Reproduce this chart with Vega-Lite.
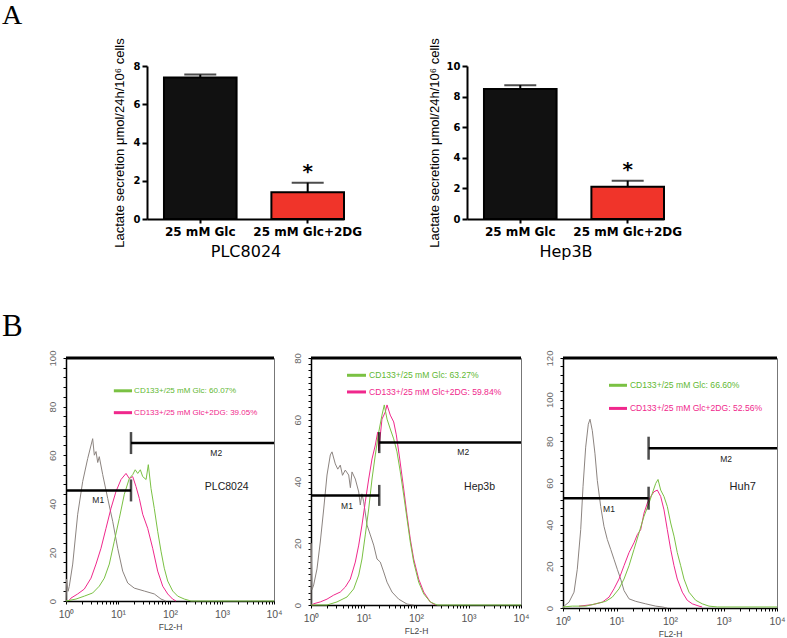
{
  "$schema": "https://vega.github.io/schema/vega-lite/v6.json",
  "background": "white",
  "padding": {"left": 2, "top": 1, "right": 5, "bottom": 5},
  "bounds": "flush",
  "spacing": 292,
  "resolve": {"scale": {"color": "independent"}},
  "title": {"text": "A", "anchor": "start", "frame": "group", "font": "Liberation Serif", "fontSize": 28, "fontWeight": "normal", "color": "black", "dx": -64, "offset": 8},
  "config": {
    "view": {"stroke": null},
    "font": "Liberation Sans",
    "axis": {"grid": false, "labelOverlap": false}
  },
  "datasets": {
    "lactate": [
      {"cell": "PLC8024", "treatment": "25 mM Glc", "mean": 7.4, "upper": 7.55, "sig": ""},
      {"cell": "PLC8024", "treatment": "25 mM Glc+2DG", "mean": 1.4, "upper": 1.9, "sig": "*"},
      {"cell": "Hep3B", "treatment": "25 mM Glc", "mean": 8.5, "upper": 8.75, "sig": ""},
      {"cell": "Hep3B", "treatment": "25 mM Glc+2DG", "mean": 2.1, "upper": 2.5, "sig": "*"}
    ],
    "gates": [
      {"cell": "PLC8024", "gate": "M1", "from": 0, "to": 1.25, "level": 45.5, "edge": 1.25},
      {"cell": "PLC8024", "gate": "M2", "from": 1.25, "to": 4, "level": 65, "edge": 1.25},
      {"cell": "Hep3b", "gate": "M1", "from": 0, "to": 1.3, "level": 35.5, "edge": 1.3},
      {"cell": "Hep3b", "gate": "M2", "from": 1.3, "to": 4, "level": 52.6, "edge": 1.3},
      {"cell": "Huh7", "gate": "M1", "from": 0, "to": 1.6, "level": 52.7, "edge": 1.6},
      {"cell": "Huh7", "gate": "M2", "from": 1.6, "to": 4, "level": 76.7, "edge": 1.6}
    ],
    "flow": [
      {"cell": "PLC8024", "series": "control", "logFL2H": 0, "count": 0},
      {"cell": "PLC8024", "series": "control", "logFL2H": 0.01, "count": 9},
      {"cell": "PLC8024", "series": "control", "logFL2H": 0.04, "count": 4},
      {"cell": "PLC8024", "series": "control", "logFL2H": 0.063, "count": 6},
      {"cell": "PLC8024", "series": "control", "logFL2H": 0.129, "count": 15.2},
      {"cell": "PLC8024", "series": "control", "logFL2H": 0.225, "count": 35.7},
      {"cell": "PLC8024", "series": "control", "logFL2H": 0.321, "count": 49.2},
      {"cell": "PLC8024", "series": "control", "logFL2H": 0.417, "count": 58.6},
      {"cell": "PLC8024", "series": "control", "logFL2H": 0.513, "count": 66.8},
      {"cell": "PLC8024", "series": "control", "logFL2H": 0.545, "count": 60},
      {"cell": "PLC8024", "series": "control", "logFL2H": 0.577, "count": 61.5},
      {"cell": "PLC8024", "series": "control", "logFL2H": 0.61, "count": 57},
      {"cell": "PLC8024", "series": "control", "logFL2H": 0.64, "count": 59.4},
      {"cell": "PLC8024", "series": "control", "logFL2H": 0.706, "count": 52},
      {"cell": "PLC8024", "series": "control", "logFL2H": 0.802, "count": 42.2},
      {"cell": "PLC8024", "series": "control", "logFL2H": 0.898, "count": 32.8},
      {"cell": "PLC8024", "series": "control", "logFL2H": 0.994, "count": 21.7},
      {"cell": "PLC8024", "series": "control", "logFL2H": 1.09, "count": 12.3},
      {"cell": "PLC8024", "series": "control", "logFL2H": 1.187, "count": 7.4},
      {"cell": "PLC8024", "series": "control", "logFL2H": 1.313, "count": 5.3},
      {"cell": "PLC8024", "series": "control", "logFL2H": 1.506, "count": 4.1},
      {"cell": "PLC8024", "series": "control", "logFL2H": 1.698, "count": 2.9},
      {"cell": "PLC8024", "series": "control", "logFL2H": 1.827, "count": 0.8},
      {"cell": "PLC8024", "series": "control", "logFL2H": 1.92, "count": 0},
      {"cell": "PLC8024", "series": "Glc+2DG", "logFL2H": 0.05, "count": 0},
      {"cell": "PLC8024", "series": "Glc+2DG", "logFL2H": 0.096, "count": 1.2},
      {"cell": "PLC8024", "series": "Glc+2DG", "logFL2H": 0.225, "count": 2.9},
      {"cell": "PLC8024", "series": "Glc+2DG", "logFL2H": 0.352, "count": 4.9},
      {"cell": "PLC8024", "series": "Glc+2DG", "logFL2H": 0.481, "count": 9.4},
      {"cell": "PLC8024", "series": "Glc+2DG", "logFL2H": 0.577, "count": 15.2},
      {"cell": "PLC8024", "series": "Glc+2DG", "logFL2H": 0.673, "count": 21.7},
      {"cell": "PLC8024", "series": "Glc+2DG", "logFL2H": 0.769, "count": 29.9},
      {"cell": "PLC8024", "series": "Glc+2DG", "logFL2H": 0.865, "count": 38.1},
      {"cell": "PLC8024", "series": "Glc+2DG", "logFL2H": 0.962, "count": 45.1},
      {"cell": "PLC8024", "series": "Glc+2DG", "logFL2H": 1.058, "count": 50},
      {"cell": "PLC8024", "series": "Glc+2DG", "logFL2H": 1.154, "count": 52.5},
      {"cell": "PLC8024", "series": "Glc+2DG", "logFL2H": 1.217, "count": 50.4},
      {"cell": "PLC8024", "series": "Glc+2DG", "logFL2H": 1.283, "count": 51.2},
      {"cell": "PLC8024", "series": "Glc+2DG", "logFL2H": 1.346, "count": 47.1},
      {"cell": "PLC8024", "series": "Glc+2DG", "logFL2H": 1.41, "count": 42.2},
      {"cell": "PLC8024", "series": "Glc+2DG", "logFL2H": 1.475, "count": 35.7},
      {"cell": "PLC8024", "series": "Glc+2DG", "logFL2H": 1.571, "count": 29.9},
      {"cell": "PLC8024", "series": "Glc+2DG", "logFL2H": 1.667, "count": 21.7},
      {"cell": "PLC8024", "series": "Glc+2DG", "logFL2H": 1.763, "count": 12.3},
      {"cell": "PLC8024", "series": "Glc+2DG", "logFL2H": 1.86, "count": 6.1},
      {"cell": "PLC8024", "series": "Glc+2DG", "logFL2H": 1.956, "count": 2.9},
      {"cell": "PLC8024", "series": "Glc+2DG", "logFL2H": 2.05, "count": 0.8},
      {"cell": "PLC8024", "series": "Glc+2DG", "logFL2H": 2.115, "count": 0},
      {"cell": "PLC8024", "series": "Glc", "logFL2H": 0, "count": 0},
      {"cell": "PLC8024", "series": "Glc", "logFL2H": 0.192, "count": 0.8},
      {"cell": "PLC8024", "series": "Glc", "logFL2H": 0.352, "count": 2},
      {"cell": "PLC8024", "series": "Glc", "logFL2H": 0.513, "count": 3.3},
      {"cell": "PLC8024", "series": "Glc", "logFL2H": 0.64, "count": 6.1},
      {"cell": "PLC8024", "series": "Glc", "logFL2H": 0.737, "count": 9.4},
      {"cell": "PLC8024", "series": "Glc", "logFL2H": 0.833, "count": 15.2},
      {"cell": "PLC8024", "series": "Glc", "logFL2H": 0.929, "count": 24.6},
      {"cell": "PLC8024", "series": "Glc", "logFL2H": 1.025, "count": 34},
      {"cell": "PLC8024", "series": "Glc", "logFL2H": 1.121, "count": 43.9},
      {"cell": "PLC8024", "series": "Glc", "logFL2H": 1.217, "count": 50.4},
      {"cell": "PLC8024", "series": "Glc", "logFL2H": 1.283, "count": 52},
      {"cell": "PLC8024", "series": "Glc", "logFL2H": 1.331, "count": 54},
      {"cell": "PLC8024", "series": "Glc", "logFL2H": 1.379, "count": 52.5},
      {"cell": "PLC8024", "series": "Glc", "logFL2H": 1.43, "count": 54},
      {"cell": "PLC8024", "series": "Glc", "logFL2H": 1.475, "count": 51.2},
      {"cell": "PLC8024", "series": "Glc", "logFL2H": 1.54, "count": 50},
      {"cell": "PLC8024", "series": "Glc", "logFL2H": 1.583, "count": 56.1},
      {"cell": "PLC8024", "series": "Glc", "logFL2H": 1.635, "count": 46.3},
      {"cell": "PLC8024", "series": "Glc", "logFL2H": 1.698, "count": 38.1},
      {"cell": "PLC8024", "series": "Glc", "logFL2H": 1.763, "count": 28.7},
      {"cell": "PLC8024", "series": "Glc", "logFL2H": 1.827, "count": 20.5},
      {"cell": "PLC8024", "series": "Glc", "logFL2H": 1.89, "count": 13.5},
      {"cell": "PLC8024", "series": "Glc", "logFL2H": 1.956, "count": 8.2},
      {"cell": "PLC8024", "series": "Glc", "logFL2H": 2.052, "count": 4.1},
      {"cell": "PLC8024", "series": "Glc", "logFL2H": 2.148, "count": 2},
      {"cell": "PLC8024", "series": "Glc", "logFL2H": 2.275, "count": 0.8},
      {"cell": "PLC8024", "series": "Glc", "logFL2H": 2.404, "count": 0},
      {"cell": "PLC8024", "series": "Glc", "logFL2H": 4, "count": 0},
      {"cell": "Hep3b", "series": "control", "logFL2H": 0, "count": 0},
      {"cell": "Hep3b", "series": "control", "logFL2H": 0.001, "count": 20},
      {"cell": "Hep3b", "series": "control", "logFL2H": 0.02, "count": 5},
      {"cell": "Hep3b", "series": "control", "logFL2H": 0.051, "count": 6.5},
      {"cell": "Hep3b", "series": "control", "logFL2H": 0.114, "count": 11.7},
      {"cell": "Hep3b", "series": "control", "logFL2H": 0.177, "count": 20.4},
      {"cell": "Hep3b", "series": "control", "logFL2H": 0.242, "count": 31.1},
      {"cell": "Hep3b", "series": "control", "logFL2H": 0.305, "count": 42.1},
      {"cell": "Hep3b", "series": "control", "logFL2H": 0.368, "count": 48.6},
      {"cell": "Hep3b", "series": "control", "logFL2H": 0.4, "count": 49.6},
      {"cell": "Hep3b", "series": "control", "logFL2H": 0.463, "count": 45.7},
      {"cell": "Hep3b", "series": "control", "logFL2H": 0.51, "count": 44},
      {"cell": "Hep3b", "series": "control", "logFL2H": 0.558, "count": 45.3},
      {"cell": "Hep3b", "series": "control", "logFL2H": 0.6, "count": 42},
      {"cell": "Hep3b", "series": "control", "logFL2H": 0.653, "count": 43.7},
      {"cell": "Hep3b", "series": "control", "logFL2H": 0.718, "count": 42.1},
      {"cell": "Hep3b", "series": "control", "logFL2H": 0.75, "count": 38},
      {"cell": "Hep3b", "series": "control", "logFL2H": 0.781, "count": 43.1},
      {"cell": "Hep3b", "series": "control", "logFL2H": 0.844, "count": 40.8},
      {"cell": "Hep3b", "series": "control", "logFL2H": 0.909, "count": 36.6},
      {"cell": "Hep3b", "series": "control", "logFL2H": 0.939, "count": 32.4},
      {"cell": "Hep3b", "series": "control", "logFL2H": 0.97, "count": 36},
      {"cell": "Hep3b", "series": "control", "logFL2H": 1.004, "count": 33.4},
      {"cell": "Hep3b", "series": "control", "logFL2H": 1.067, "count": 25.9},
      {"cell": "Hep3b", "series": "control", "logFL2H": 1.13, "count": 22.7},
      {"cell": "Hep3b", "series": "control", "logFL2H": 1.194, "count": 19.4},
      {"cell": "Hep3b", "series": "control", "logFL2H": 1.257, "count": 14.9},
      {"cell": "Hep3b", "series": "control", "logFL2H": 1.32, "count": 13.9},
      {"cell": "Hep3b", "series": "control", "logFL2H": 1.385, "count": 10.7},
      {"cell": "Hep3b", "series": "control", "logFL2H": 1.448, "count": 7.4},
      {"cell": "Hep3b", "series": "control", "logFL2H": 1.543, "count": 4.2},
      {"cell": "Hep3b", "series": "control", "logFL2H": 1.67, "count": 1.9},
      {"cell": "Hep3b", "series": "control", "logFL2H": 1.829, "count": 0.3},
      {"cell": "Hep3b", "series": "control", "logFL2H": 1.956, "count": 0},
      {"cell": "Hep3b", "series": "Glc+2DG", "logFL2H": 0.02, "count": 0},
      {"cell": "Hep3b", "series": "Glc+2DG", "logFL2H": 0.051, "count": 0.4},
      {"cell": "Hep3b", "series": "Glc+2DG", "logFL2H": 0.177, "count": 1},
      {"cell": "Hep3b", "series": "Glc+2DG", "logFL2H": 0.305, "count": 1.9},
      {"cell": "Hep3b", "series": "Glc+2DG", "logFL2H": 0.432, "count": 3.2},
      {"cell": "Hep3b", "series": "Glc+2DG", "logFL2H": 0.558, "count": 4.2},
      {"cell": "Hep3b", "series": "Glc+2DG", "logFL2H": 0.653, "count": 5.8},
      {"cell": "Hep3b", "series": "Glc+2DG", "logFL2H": 0.749, "count": 8.4},
      {"cell": "Hep3b", "series": "Glc+2DG", "logFL2H": 0.844, "count": 13.9},
      {"cell": "Hep3b", "series": "Glc+2DG", "logFL2H": 0.909, "count": 19.4},
      {"cell": "Hep3b", "series": "Glc+2DG", "logFL2H": 0.971, "count": 25.9},
      {"cell": "Hep3b", "series": "Glc+2DG", "logFL2H": 1.034, "count": 33.4},
      {"cell": "Hep3b", "series": "Glc+2DG", "logFL2H": 1.099, "count": 40.8},
      {"cell": "Hep3b", "series": "Glc+2DG", "logFL2H": 1.162, "count": 47.3},
      {"cell": "Hep3b", "series": "Glc+2DG", "logFL2H": 1.225, "count": 51.8},
      {"cell": "Hep3b", "series": "Glc+2DG", "logFL2H": 1.27, "count": 56},
      {"cell": "Hep3b", "series": "Glc+2DG", "logFL2H": 1.29, "count": 50},
      {"cell": "Hep3b", "series": "Glc+2DG", "logFL2H": 1.352, "count": 60.2},
      {"cell": "Hep3b", "series": "Glc+2DG", "logFL2H": 1.415, "count": 62.5},
      {"cell": "Hep3b", "series": "Glc+2DG", "logFL2H": 1.448, "count": 64.8},
      {"cell": "Hep3b", "series": "Glc+2DG", "logFL2H": 1.51, "count": 61.5},
      {"cell": "Hep3b", "series": "Glc+2DG", "logFL2H": 1.575, "count": 59.3},
      {"cell": "Hep3b", "series": "Glc+2DG", "logFL2H": 1.625, "count": 55.1},
      {"cell": "Hep3b", "series": "Glc+2DG", "logFL2H": 1.69, "count": 47.3},
      {"cell": "Hep3b", "series": "Glc+2DG", "logFL2H": 1.766, "count": 37.6},
      {"cell": "Hep3b", "series": "Glc+2DG", "logFL2H": 1.829, "count": 29.1},
      {"cell": "Hep3b", "series": "Glc+2DG", "logFL2H": 1.891, "count": 21.4},
      {"cell": "Hep3b", "series": "Glc+2DG", "logFL2H": 1.956, "count": 14.9},
      {"cell": "Hep3b", "series": "Glc+2DG", "logFL2H": 2.051, "count": 8.4},
      {"cell": "Hep3b", "series": "Glc+2DG", "logFL2H": 2.147, "count": 4.2},
      {"cell": "Hep3b", "series": "Glc+2DG", "logFL2H": 2.272, "count": 1},
      {"cell": "Hep3b", "series": "Glc+2DG", "logFL2H": 2.367, "count": 0},
      {"cell": "Hep3b", "series": "Glc", "logFL2H": 0, "count": 0},
      {"cell": "Hep3b", "series": "Glc", "logFL2H": 0.305, "count": 0},
      {"cell": "Hep3b", "series": "Glc", "logFL2H": 0.495, "count": 1},
      {"cell": "Hep3b", "series": "Glc", "logFL2H": 0.686, "count": 2.6},
      {"cell": "Hep3b", "series": "Glc", "logFL2H": 0.813, "count": 5.2},
      {"cell": "Hep3b", "series": "Glc", "logFL2H": 0.909, "count": 9.7},
      {"cell": "Hep3b", "series": "Glc", "logFL2H": 0.971, "count": 14.9},
      {"cell": "Hep3b", "series": "Glc", "logFL2H": 1.034, "count": 22.7},
      {"cell": "Hep3b", "series": "Glc", "logFL2H": 1.099, "count": 31.1},
      {"cell": "Hep3b", "series": "Glc", "logFL2H": 1.162, "count": 40.8},
      {"cell": "Hep3b", "series": "Glc", "logFL2H": 1.225, "count": 48.6},
      {"cell": "Hep3b", "series": "Glc", "logFL2H": 1.29, "count": 56},
      {"cell": "Hep3b", "series": "Glc", "logFL2H": 1.352, "count": 61.5},
      {"cell": "Hep3b", "series": "Glc", "logFL2H": 1.396, "count": 64.8},
      {"cell": "Hep3b", "series": "Glc", "logFL2H": 1.448, "count": 60.2},
      {"cell": "Hep3b", "series": "Glc", "logFL2H": 1.51, "count": 57},
      {"cell": "Hep3b", "series": "Glc", "logFL2H": 1.575, "count": 53.8},
      {"cell": "Hep3b", "series": "Glc", "logFL2H": 1.638, "count": 49.6},
      {"cell": "Hep3b", "series": "Glc", "logFL2H": 1.701, "count": 43.1},
      {"cell": "Hep3b", "series": "Glc", "logFL2H": 1.766, "count": 35.6},
      {"cell": "Hep3b", "series": "Glc", "logFL2H": 1.829, "count": 27.9},
      {"cell": "Hep3b", "series": "Glc", "logFL2H": 1.891, "count": 20.4},
      {"cell": "Hep3b", "series": "Glc", "logFL2H": 1.956, "count": 13.9},
      {"cell": "Hep3b", "series": "Glc", "logFL2H": 2.051, "count": 7.4},
      {"cell": "Hep3b", "series": "Glc", "logFL2H": 2.147, "count": 3.6},
      {"cell": "Hep3b", "series": "Glc", "logFL2H": 2.272, "count": 1},
      {"cell": "Hep3b", "series": "Glc", "logFL2H": 2.4, "count": 0},
      {"cell": "Hep3b", "series": "Glc", "logFL2H": 4, "count": 0},
      {"cell": "Huh7", "series": "control", "logFL2H": 0, "count": 0},
      {"cell": "Huh7", "series": "control", "logFL2H": 0.019, "count": 0.9},
      {"cell": "Huh7", "series": "control", "logFL2H": 0.112, "count": 2.8},
      {"cell": "Huh7", "series": "control", "logFL2H": 0.206, "count": 7.6},
      {"cell": "Huh7", "series": "control", "logFL2H": 0.267, "count": 18.6},
      {"cell": "Huh7", "series": "control", "logFL2H": 0.331, "count": 37.6},
      {"cell": "Huh7", "series": "control", "logFL2H": 0.374, "count": 58.2},
      {"cell": "Huh7", "series": "control", "logFL2H": 0.424, "count": 77.2},
      {"cell": "Huh7", "series": "control", "logFL2H": 0.473, "count": 88.2},
      {"cell": "Huh7", "series": "control", "logFL2H": 0.505, "count": 90.6},
      {"cell": "Huh7", "series": "control", "logFL2H": 0.548, "count": 85.1},
      {"cell": "Huh7", "series": "control", "logFL2H": 0.598, "count": 74},
      {"cell": "Huh7", "series": "control", "logFL2H": 0.641, "count": 61.3},
      {"cell": "Huh7", "series": "control", "logFL2H": 0.705, "count": 48.7},
      {"cell": "Huh7", "series": "control", "logFL2H": 0.766, "count": 39.2},
      {"cell": "Huh7", "series": "control", "logFL2H": 0.828, "count": 32.9},
      {"cell": "Huh7", "series": "control", "logFL2H": 0.892, "count": 28.1},
      {"cell": "Huh7", "series": "control", "logFL2H": 0.953, "count": 23.4},
      {"cell": "Huh7", "series": "control", "logFL2H": 1.015, "count": 18.6},
      {"cell": "Huh7", "series": "control", "logFL2H": 1.078, "count": 13.9},
      {"cell": "Huh7", "series": "control", "logFL2H": 1.14, "count": 8.4},
      {"cell": "Huh7", "series": "control", "logFL2H": 1.234, "count": 4.4},
      {"cell": "Huh7", "series": "control", "logFL2H": 1.359, "count": 3.2},
      {"cell": "Huh7", "series": "control", "logFL2H": 1.546, "count": 2},
      {"cell": "Huh7", "series": "control", "logFL2H": 1.733, "count": 0.9},
      {"cell": "Huh7", "series": "control", "logFL2H": 1.856, "count": 0.5},
      {"cell": "Huh7", "series": "control", "logFL2H": 1.95, "count": 0},
      {"cell": "Huh7", "series": "Glc+2DG", "logFL2H": 0.299, "count": 0.9},
      {"cell": "Huh7", "series": "Glc+2DG", "logFL2H": 0.548, "count": 1.6},
      {"cell": "Huh7", "series": "Glc+2DG", "logFL2H": 0.735, "count": 2.8},
      {"cell": "Huh7", "series": "Glc+2DG", "logFL2H": 0.86, "count": 5.2},
      {"cell": "Huh7", "series": "Glc+2DG", "logFL2H": 0.953, "count": 9.2},
      {"cell": "Huh7", "series": "Glc+2DG", "logFL2H": 1.047, "count": 13.9},
      {"cell": "Huh7", "series": "Glc+2DG", "logFL2H": 1.14, "count": 20.3},
      {"cell": "Huh7", "series": "Glc+2DG", "logFL2H": 1.234, "count": 26.6},
      {"cell": "Huh7", "series": "Glc+2DG", "logFL2H": 1.327, "count": 31.3},
      {"cell": "Huh7", "series": "Glc+2DG", "logFL2H": 1.389, "count": 35.2},
      {"cell": "Huh7", "series": "Glc+2DG", "logFL2H": 1.452, "count": 37.6},
      {"cell": "Huh7", "series": "Glc+2DG", "logFL2H": 1.514, "count": 45.5},
      {"cell": "Huh7", "series": "Glc+2DG", "logFL2H": 1.576, "count": 50.3},
      {"cell": "Huh7", "series": "Glc+2DG", "logFL2H": 1.639, "count": 53.5},
      {"cell": "Huh7", "series": "Glc+2DG", "logFL2H": 1.701, "count": 55.8},
      {"cell": "Huh7", "series": "Glc+2DG", "logFL2H": 1.763, "count": 56.6},
      {"cell": "Huh7", "series": "Glc+2DG", "logFL2H": 1.826, "count": 53.5},
      {"cell": "Huh7", "series": "Glc+2DG", "logFL2H": 1.888, "count": 47.1},
      {"cell": "Huh7", "series": "Glc+2DG", "logFL2H": 1.95, "count": 37.6},
      {"cell": "Huh7", "series": "Glc+2DG", "logFL2H": 2.013, "count": 28.1},
      {"cell": "Huh7", "series": "Glc+2DG", "logFL2H": 2.075, "count": 20.3},
      {"cell": "Huh7", "series": "Glc+2DG", "logFL2H": 2.136, "count": 13.9},
      {"cell": "Huh7", "series": "Glc+2DG", "logFL2H": 2.23, "count": 7.6},
      {"cell": "Huh7", "series": "Glc+2DG", "logFL2H": 2.323, "count": 3.7},
      {"cell": "Huh7", "series": "Glc+2DG", "logFL2H": 2.417, "count": 2},
      {"cell": "Huh7", "series": "Glc+2DG", "logFL2H": 2.542, "count": 0.9},
      {"cell": "Huh7", "series": "Glc+2DG", "logFL2H": 2.6, "count": 0.5},
      {"cell": "Huh7", "series": "Glc", "logFL2H": 0, "count": 0.5},
      {"cell": "Huh7", "series": "Glc", "logFL2H": 0.174, "count": 0.9},
      {"cell": "Huh7", "series": "Glc", "logFL2H": 0.424, "count": 0.9},
      {"cell": "Huh7", "series": "Glc", "logFL2H": 0.611, "count": 2},
      {"cell": "Huh7", "series": "Glc", "logFL2H": 0.798, "count": 3.2},
      {"cell": "Huh7", "series": "Glc", "logFL2H": 0.921, "count": 5.2},
      {"cell": "Huh7", "series": "Glc", "logFL2H": 1.047, "count": 9.2},
      {"cell": "Huh7", "series": "Glc", "logFL2H": 1.14, "count": 13.9},
      {"cell": "Huh7", "series": "Glc", "logFL2H": 1.234, "count": 20.3},
      {"cell": "Huh7", "series": "Glc", "logFL2H": 1.327, "count": 28.1},
      {"cell": "Huh7", "series": "Glc", "logFL2H": 1.421, "count": 36.1},
      {"cell": "Huh7", "series": "Glc", "logFL2H": 1.514, "count": 44},
      {"cell": "Huh7", "series": "Glc", "logFL2H": 1.607, "count": 50.3},
      {"cell": "Huh7", "series": "Glc", "logFL2H": 1.669, "count": 55},
      {"cell": "Huh7", "series": "Glc", "logFL2H": 1.733, "count": 59.8},
      {"cell": "Huh7", "series": "Glc", "logFL2H": 1.776, "count": 61.7},
      {"cell": "Huh7", "series": "Glc", "logFL2H": 1.826, "count": 56.6},
      {"cell": "Huh7", "series": "Glc", "logFL2H": 1.888, "count": 53.5},
      {"cell": "Huh7", "series": "Glc", "logFL2H": 1.95, "count": 48.7},
      {"cell": "Huh7", "series": "Glc", "logFL2H": 2.013, "count": 40.8},
      {"cell": "Huh7", "series": "Glc", "logFL2H": 2.075, "count": 34.5},
      {"cell": "Huh7", "series": "Glc", "logFL2H": 2.136, "count": 26.6},
      {"cell": "Huh7", "series": "Glc", "logFL2H": 2.2, "count": 20.3},
      {"cell": "Huh7", "series": "Glc", "logFL2H": 2.262, "count": 13.9},
      {"cell": "Huh7", "series": "Glc", "logFL2H": 2.355, "count": 7.6},
      {"cell": "Huh7", "series": "Glc", "logFL2H": 2.48, "count": 3.7},
      {"cell": "Huh7", "series": "Glc", "logFL2H": 2.604, "count": 2},
      {"cell": "Huh7", "series": "Glc", "logFL2H": 2.729, "count": 0.9},
      {"cell": "Huh7", "series": "Glc", "logFL2H": 2.884, "count": 0.5},
      {"cell": "Huh7", "series": "Glc", "logFL2H": 4, "count": 0.5}
    ]
  },
  "vconcat": [
    {
      "bounds": "flush",
      "spacing": 80,
      "resolve": {"scale": {"color": "independent"}},
      "hconcat": [
        {"width": 1, "height": 1, "data": {"values": [{}]}, "mark": {"type": "point", "opacity": 0}, "encoding": {}},
        {
          "bounds": "flush",
          "spacing": 123,
          "resolve": {"scale": {"color": "independent"}},
          "hconcat": [
            {
              "width": 197, "height": 153,
              "data": {"name": "lactate"},
              "transform": [{"filter": "datum.cell === 'PLC8024'"}],
              "encoding": {
                "x": {"field": "treatment", "type": "nominal", "sort": null,
                  "scale": {"paddingInner": 0.324, "paddingOuter": 0.079, "align": 1},
                  "axis": {"title": "PLC8024", "labelAngle": 0, "domainWidth": 2, "domainColor": "black", "tickWidth": 2, "tickSize": 4, "tickColor": "black", "labelFont": "DejaVu Sans", "labelFontWeight": "bold", "labelFontSize": 12, "labelColor": "black", "labelPadding": 3, "titleFont": "DejaVu Sans", "titleFontWeight": "normal", "titleFontSize": 16, "titleColor": "black", "titlePadding": 6}}
              },
              "layer": [
                {"mark": {"type": "bar", "stroke": "black", "strokeWidth": 2},
                 "encoding": {
                   "y": {"field": "mean", "type": "quantitative", "scale": {"domain": [0, 8], "nice": false},
                     "axis": {"values": [0, 2, 4, 6, 8], "tickCount": 20, "format": "d", "labelOverlap": false, "title": "Lactate secretion μmol/24h/10⁶ cells", "domainWidth": 2, "domainColor": "black", "tickWidth": 2, "tickSize": 5, "tickColor": "black", "labelFont": "DejaVu Sans", "labelFontWeight": "bold", "labelFontSize": 10, "labelColor": "black", "labelPadding": 2, "titleFont": "Liberation Sans", "titleFontWeight": "normal", "titleFontSize": 13, "titleColor": "black", "titlePadding": 7}},
                   "color": {"field": "treatment", "type": "nominal", "scale": {"domain": ["25 mM Glc", "25 mM Glc+2DG"], "range": ["#111111", "#f0342a"]}, "legend": null}}},
                {"mark": {"type": "rule", "strokeWidth": 2, "color": "black"},
                 "encoding": {"y": {"field": "mean", "type": "quantitative"}, "y2": {"field": "upper"}}},
                {"mark": {"type": "tick", "thickness": 2, "size": 32, "color": "black", "orient": "horizontal"},
                 "encoding": {"y": {"field": "upper", "type": "quantitative"}}},
                {"mark": {"type": "text", "fontSize": 20, "fontWeight": "bold", "font": "DejaVu Sans", "dy": -11, "color": "black"},
                 "encoding": {"y": {"field": "upper", "type": "quantitative"}, "text": {"field": "sig"}}}
              ]
            },
            {
              "width": 197, "height": 153,
              "data": {"name": "lactate"},
              "transform": [{"filter": "datum.cell === 'Hep3B'"}],
              "encoding": {
                "x": {"field": "treatment", "type": "nominal", "sort": null,
                  "scale": {"paddingInner": 0.324, "paddingOuter": 0.079, "align": 1},
                  "axis": {"title": "Hep3B", "labelAngle": 0, "domainWidth": 2, "domainColor": "black", "tickWidth": 2, "tickSize": 4, "tickColor": "black", "labelFont": "DejaVu Sans", "labelFontWeight": "bold", "labelFontSize": 12, "labelColor": "black", "labelPadding": 3, "titleFont": "DejaVu Sans", "titleFontWeight": "normal", "titleFontSize": 16, "titleColor": "black", "titlePadding": 6}}
              },
              "layer": [
                {"mark": {"type": "bar", "stroke": "black", "strokeWidth": 2},
                 "encoding": {
                   "y": {"field": "mean", "type": "quantitative", "scale": {"domain": [0, 10], "nice": false},
                     "axis": {"values": [0, 2, 4, 6, 8, 10], "tickCount": 20, "format": "d", "labelOverlap": false, "title": "Lactate secretion μmol/24h/10⁶ cells", "domainWidth": 2, "domainColor": "black", "tickWidth": 2, "tickSize": 5, "tickColor": "black", "labelFont": "DejaVu Sans", "labelFontWeight": "bold", "labelFontSize": 10, "labelColor": "black", "labelPadding": 2, "titleFont": "Liberation Sans", "titleFontWeight": "normal", "titleFontSize": 13, "titleColor": "black", "titlePadding": 5}},
                   "color": {"field": "treatment", "type": "nominal", "scale": {"domain": ["25 mM Glc", "25 mM Glc+2DG"], "range": ["#111111", "#f0342a"]}, "legend": null}}},
                {"mark": {"type": "rule", "strokeWidth": 2, "color": "black"},
                 "encoding": {"y": {"field": "mean", "type": "quantitative"}, "y2": {"field": "upper"}}},
                {"mark": {"type": "tick", "thickness": 2, "size": 32, "color": "black", "orient": "horizontal"},
                 "encoding": {"y": {"field": "upper", "type": "quantitative"}}},
                {"mark": {"type": "text", "fontSize": 20, "fontWeight": "bold", "font": "DejaVu Sans", "dy": -11, "color": "black"},
                 "encoding": {"y": {"field": "upper", "type": "quantitative"}, "text": {"field": "sig"}}}
              ]
            }
          ]
        }
      ]
    },
    {
      "bounds": "flush",
      "spacing": 37,
      "resolve": {"scale": {"color": "independent"}},
      "title": {"text": "B", "anchor": "start", "frame": "group", "font": "Liberation Serif", "fontSize": 31, "fontWeight": "normal", "color": "black", "dx": -64, "offset": 7},
      "hconcat": [
        {
          "width": 208, "height": 243,
          "view": {"stroke": "#777", "strokeWidth": 1},
          "layer": [
            {"data": {"name": "flow"}, "transform": [{"filter": "datum.cell === 'PLC8024'"}],
             "mark": {"type": "line", "strokeWidth": 1},
             "encoding": {
               "x": {"field": "logFL2H", "type": "quantitative", "scale": {"domain": [0, 4], "nice": false, "zero": false},
                 "axis": {"title": "FL2-H", "tickCount": 100, "values": [0, 0.301, 0.477, 0.602, 0.699, 0.778, 0.845, 0.903, 0.954, 1, 1.301, 1.477, 1.602, 1.699, 1.778, 1.845, 1.903, 1.954, 2, 2.301, 2.477, 2.602, 2.699, 2.778, 2.845, 2.903, 2.954, 3, 3.301, 3.477, 3.602, 3.699, 3.778, 3.845, 3.903, 3.954, 4],
                   "labelExpr": "datum.value == 0 ? '10⁰' : datum.value == 1 ? '10¹' : datum.value == 2 ? '10²' : datum.value == 3 ? '10³' : datum.value == 4 ? '10⁴' : ''",
                   "labelFlush": false, "labelOverlap": false, "domainColor": "black", "domainWidth": 1.5, "tickColor": "black", "tickSize": 3, "labelColor": "#555", "labelFontSize": 10.5, "labelPadding": 5, "titleFontSize": 8.5, "titleFontWeight": "normal", "titleColor": "#444", "titlePadding": 3}},
               "y": {"field": "count", "type": "quantitative", "scale": {"domain": [0, 100], "nice": false},
                 "axis": {"title": null, "tickCount": 100, "values": [0, 4, 8, 12, 16, 20, 24, 28, 32, 36, 40, 44, 48, 52, 56, 60, 64, 68, 72, 76, 80, 84, 88, 92, 96, 100], "labelExpr": "datum.value % 20 === 0 ? datum.label : ''", "labelAngle": -90, "labelOverlap": false, "domainColor": "black", "domainWidth": 1.5, "tickColor": "black", "tickSize": 3, "labelColor": "#666", "labelFontSize": 9.5, "labelPadding": 6}},
               "color": {"field": "series", "type": "nominal", "scale": {"domain": ["control", "Glc", "Glc+2DG"], "range": ["#8c8480", "#7ac143", "#f0288c"]}, "legend": null}}},
            {"data": {"values": [{}]}, "mark": {"type": "rule", "strokeWidth": 3, "color": "black"}, "encoding": {"y": {"datum": 100, "type": "quantitative"}}},
            {"data": {"name": "gates"}, "transform": [{"filter": "datum.cell === 'PLC8024'"}],
             "mark": {"type": "rule", "strokeWidth": 2.5, "color": "black"},
             "encoding": {"x": {"field": "from", "type": "quantitative"}, "x2": {"field": "to"}, "y": {"field": "level", "type": "quantitative"}}},
            {"data": {"name": "gates"}, "transform": [{"filter": "datum.cell === 'PLC8024'"}],
             "mark": {"type": "tick", "orient": "vertical", "size": 22, "thickness": 2.5, "color": "black"},
             "encoding": {"x": {"field": "edge", "type": "quantitative"}, "y": {"field": "level", "type": "quantitative"}}},
            {"data": {"values": [{}]}, "mark": {"type": "text", "text": "M1", "fontSize": 8.5, "color": "#222"}, "encoding": {"x": {"datum": 0.62}, "y": {"datum": 41.7}}},
            {"data": {"values": [{}]}, "mark": {"type": "text", "text": "M2", "fontSize": 8.5, "color": "#222"}, "encoding": {"x": {"datum": 2.89}, "y": {"datum": 60.8}}},
            {"data": {"values": [{}]}, "mark": {"type": "text", "text": "PLC8024", "fontSize": 10.5, "color": "#222"}, "encoding": {"x": {"datum": 3.09}, "y": {"datum": 47}}},
            {"data": {"values": [{}]}, "mark": {"type": "rule", "strokeWidth": 3, "color": "#7ac143"}, "encoding": {"x": {"datum": 0.92}, "x2": {"datum": 1.27}, "y": {"datum": 86.5}}},
            {"data": {"values": [{}]}, "mark": {"type": "rule", "strokeWidth": 3, "color": "#f0288c"}, "encoding": {"x": {"datum": 0.92}, "x2": {"datum": 1.27}, "y": {"datum": 77.5}}},
            {"data": {"values": [{}]}, "mark": {"type": "text", "text": "CD133+/25 mM Glc: 60.07%", "align": "left", "fontSize": 8, "color": "#5fb832"}, "encoding": {"x": {"datum": 1.31}, "y": {"datum": 86.5}}},
            {"data": {"values": [{}]}, "mark": {"type": "text", "text": "CD133+/25 mM Glc+2DG: 39.05%", "align": "left", "fontSize": 8, "color": "#f0288c"}, "encoding": {"x": {"datum": 1.31}, "y": {"datum": 77.5}}}
          ]
        },
        {
          "bounds": "flush",
          "spacing": 42,
          "resolve": {"scale": {"color": "independent"}},
          "hconcat": [
            {
              "width": 210, "height": 247,
              "view": {"stroke": "#777", "strokeWidth": 1},
              "layer": [
                {"data": {"name": "flow"}, "transform": [{"filter": "datum.cell === 'Hep3b'"}],
                 "mark": {"type": "line", "strokeWidth": 1},
                 "encoding": {
                   "x": {"field": "logFL2H", "type": "quantitative", "scale": {"domain": [0, 4], "nice": false, "zero": false},
                     "axis": {"title": "FL2-H", "tickCount": 100, "values": [0, 0.301, 0.477, 0.602, 0.699, 0.778, 0.845, 0.903, 0.954, 1, 1.301, 1.477, 1.602, 1.699, 1.778, 1.845, 1.903, 1.954, 2, 2.301, 2.477, 2.602, 2.699, 2.778, 2.845, 2.903, 2.954, 3, 3.301, 3.477, 3.602, 3.699, 3.778, 3.845, 3.903, 3.954, 4],
                       "labelExpr": "datum.value == 0 ? '10⁰' : datum.value == 1 ? '10¹' : datum.value == 2 ? '10²' : datum.value == 3 ? '10³' : datum.value == 4 ? '10⁴' : ''",
                       "labelFlush": false, "labelOverlap": false, "domainColor": "black", "domainWidth": 1.5, "tickColor": "black", "tickSize": 3, "labelColor": "#555", "labelFontSize": 10.5, "labelPadding": 5, "titleFontSize": 8.5, "titleFontWeight": "normal", "titleColor": "#444", "titlePadding": 3}},
                   "y": {"field": "count", "type": "quantitative", "scale": {"domain": [0, 80], "nice": false},
                     "axis": {"title": null, "tickCount": 100, "values": [0, 2, 4, 6, 8, 10, 12, 14, 16, 18, 20, 22, 24, 26, 28, 30, 32, 34, 36, 38, 40, 42, 44, 46, 48, 50, 52, 54, 56, 58, 60, 62, 64, 66, 68, 70, 72, 74, 76, 78, 80], "labelExpr": "datum.value % 20 === 0 ? datum.label : ''", "labelAngle": -90, "labelOverlap": false, "domainColor": "black", "domainWidth": 1.5, "tickColor": "black", "tickSize": 3, "labelColor": "#666", "labelFontSize": 9.5, "labelPadding": 6}},
                   "color": {"field": "series", "type": "nominal", "scale": {"domain": ["control", "Glc", "Glc+2DG"], "range": ["#8c8480", "#7ac143", "#f0288c"]}, "legend": null}}},
                {"data": {"values": [{}]}, "mark": {"type": "rule", "strokeWidth": 3, "color": "black"}, "encoding": {"y": {"datum": 80, "type": "quantitative"}}},
                {"data": {"name": "gates"}, "transform": [{"filter": "datum.cell === 'Hep3b'"}],
                 "mark": {"type": "rule", "strokeWidth": 2.5, "color": "black"},
                 "encoding": {"x": {"field": "from", "type": "quantitative"}, "x2": {"field": "to"}, "y": {"field": "level", "type": "quantitative"}}},
                {"data": {"name": "gates"}, "transform": [{"filter": "datum.cell === 'Hep3b'"}],
                 "mark": {"type": "tick", "orient": "vertical", "size": 21, "thickness": 2.5, "color": "black"},
                 "encoding": {"x": {"field": "edge", "type": "quantitative"}, "y": {"field": "level", "type": "quantitative"}}},
                {"data": {"values": [{}]}, "mark": {"type": "text", "text": "M1", "fontSize": 8.5, "color": "#222"}, "encoding": {"x": {"datum": 0.686}, "y": {"datum": 32}}},
                {"data": {"values": [{}]}, "mark": {"type": "text", "text": "M2", "fontSize": 8.5, "color": "#222"}, "encoding": {"x": {"datum": 2.9}, "y": {"datum": 49.6}}},
                {"data": {"values": [{}]}, "mark": {"type": "text", "text": "Hep3b", "fontSize": 10.5, "color": "#222"}, "encoding": {"x": {"datum": 3.21}, "y": {"datum": 38.2}}},
                {"data": {"values": [{}]}, "mark": {"type": "rule", "strokeWidth": 3, "color": "#7ac143"}, "encoding": {"x": {"datum": 0.686}, "x2": {"datum": 1.048}, "y": {"datum": 74.4}}},
                {"data": {"values": [{}]}, "mark": {"type": "rule", "strokeWidth": 3, "color": "#f0288c"}, "encoding": {"x": {"datum": 0.686}, "x2": {"datum": 1.048}, "y": {"datum": 69}}},
                {"data": {"values": [{}]}, "mark": {"type": "text", "text": "CD133+/25 mM Glc: 63.27%", "align": "left", "fontSize": 8.6, "color": "#5fb832"}, "encoding": {"x": {"datum": 1.105}, "y": {"datum": 74.4}}},
                {"data": {"values": [{}]}, "mark": {"type": "text", "text": "CD133+/25 mM Glc+2DG: 59.84%", "align": "left", "fontSize": 8.6, "color": "#f0288c"}, "encoding": {"x": {"datum": 1.105}, "y": {"datum": 69}}}
              ]
            },
            {
              "width": 214, "height": 250,
              "view": {"stroke": "#777", "strokeWidth": 1},
              "layer": [
                {"data": {"name": "flow"}, "transform": [{"filter": "datum.cell === 'Huh7'"}],
                 "mark": {"type": "line", "strokeWidth": 1},
                 "encoding": {
                   "x": {"field": "logFL2H", "type": "quantitative", "scale": {"domain": [0, 4], "nice": false, "zero": false},
                     "axis": {"title": "FL2-H", "tickCount": 100, "values": [0, 0.301, 0.477, 0.602, 0.699, 0.778, 0.845, 0.903, 0.954, 1, 1.301, 1.477, 1.602, 1.699, 1.778, 1.845, 1.903, 1.954, 2, 2.301, 2.477, 2.602, 2.699, 2.778, 2.845, 2.903, 2.954, 3, 3.301, 3.477, 3.602, 3.699, 3.778, 3.845, 3.903, 3.954, 4],
                       "labelExpr": "datum.value == 0 ? '10⁰' : datum.value == 1 ? '10¹' : datum.value == 2 ? '10²' : datum.value == 3 ? '10³' : datum.value == 4 ? '10⁴' : ''",
                       "labelFlush": false, "labelOverlap": false, "domainColor": "black", "domainWidth": 1.5, "tickColor": "black", "tickSize": 3, "labelColor": "#555", "labelFontSize": 10.5, "labelPadding": 5, "titleFontSize": 8.5, "titleFontWeight": "normal", "titleColor": "#444", "titlePadding": 3}},
                   "y": {"field": "count", "type": "quantitative", "scale": {"domain": [0, 120], "nice": false},
                     "axis": {"title": null, "tickCount": 100, "values": [0, 4, 8, 12, 16, 20, 24, 28, 32, 36, 40, 44, 48, 52, 56, 60, 64, 68, 72, 76, 80, 84, 88, 92, 96, 100, 104, 108, 112, 116, 120], "labelExpr": "datum.value % 20 === 0 ? datum.label : ''", "labelAngle": -90, "labelOverlap": false, "domainColor": "black", "domainWidth": 1.5, "tickColor": "black", "tickSize": 3, "labelColor": "#666", "labelFontSize": 9.5, "labelPadding": 6}},
                   "color": {"field": "series", "type": "nominal", "scale": {"domain": ["control", "Glc", "Glc+2DG"], "range": ["#8c8480", "#7ac143", "#f0288c"]}, "legend": null}}},
                {"data": {"values": [{}]}, "mark": {"type": "rule", "strokeWidth": 3, "color": "black"}, "encoding": {"y": {"datum": 120, "type": "quantitative"}}},
                {"data": {"name": "gates"}, "transform": [{"filter": "datum.cell === 'Huh7'"}],
                 "mark": {"type": "rule", "strokeWidth": 2.5, "color": "black"},
                 "encoding": {"x": {"field": "from", "type": "quantitative"}, "x2": {"field": "to"}, "y": {"field": "level", "type": "quantitative"}}},
                {"data": {"name": "gates"}, "transform": [{"filter": "datum.cell === 'Huh7'"}],
                 "mark": {"type": "tick", "orient": "vertical", "size": 23, "thickness": 2.5, "color": "black"},
                 "encoding": {"x": {"field": "edge", "type": "quantitative"}, "y": {"field": "level", "type": "quantitative"}}},
                {"data": {"values": [{}]}, "mark": {"type": "text", "text": "M1", "fontSize": 8.5, "color": "#222"}, "encoding": {"x": {"datum": 0.86}, "y": {"datum": 47.4}}},
                {"data": {"values": [{}]}, "mark": {"type": "text", "text": "M2", "fontSize": 8.5, "color": "#222"}, "encoding": {"x": {"datum": 3.05}, "y": {"datum": 71.6}}},
                {"data": {"values": [{}]}, "mark": {"type": "text", "text": "Huh7", "fontSize": 11, "color": "#222"}, "encoding": {"x": {"datum": 3.36}, "y": {"datum": 58.2}}},
                {"data": {"values": [{}]}, "mark": {"type": "rule", "strokeWidth": 3, "color": "#7ac143"}, "encoding": {"x": {"datum": 0.86}, "x2": {"datum": 1.196}, "y": {"datum": 106.9}}},
                {"data": {"values": [{}]}, "mark": {"type": "rule", "strokeWidth": 3, "color": "#f0288c"}, "encoding": {"x": {"datum": 0.86}, "x2": {"datum": 1.196}, "y": {"datum": 95.8}}},
                {"data": {"values": [{}]}, "mark": {"type": "text", "text": "CD133+/25 mM Glc: 66.60%", "align": "left", "fontSize": 8.6, "color": "#5fb832"}, "encoding": {"x": {"datum": 1.25}, "y": {"datum": 106.9}}},
                {"data": {"values": [{}]}, "mark": {"type": "text", "text": "CD133+/25 mM Glc+2DG: 52.56%", "align": "left", "fontSize": 8.6, "color": "#f0288c"}, "encoding": {"x": {"datum": 1.25}, "y": {"datum": 95.8}}}
              ]
            }
          ]
        }
      ]
    }
  ]
}
